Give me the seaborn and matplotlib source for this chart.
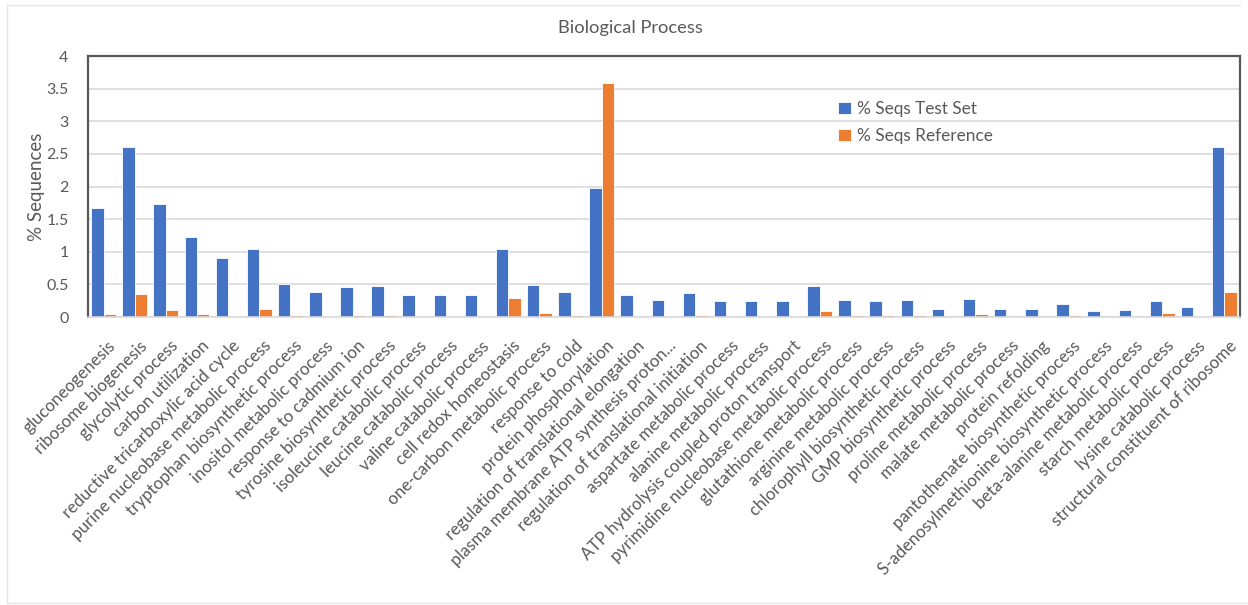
import matplotlib
matplotlib.use("Agg")
import matplotlib.pyplot as plt
import matplotlib.transforms as mtransforms
from matplotlib.lines import Line2D
import seaborn as sns
import pandas as pd

categories = [
    "gluconeogenesis",
    "ribosome biogenesis",
    "glycolytic process",
    "carbon utilization",
    "reductive tricarboxylic acid cycle",
    "purine nucleobase metabolic process",
    "tryptophan biosynthetic process",
    "inositol metabolic process",
    "response to cadmium ion",
    "tyrosine biosynthetic process",
    "isoleucine catabolic process",
    "leucine catabolic process",
    "valine catabolic process",
    "cell redox homeostasis",
    "one-carbon metabolic process",
    "response to cold",
    "protein phosphorylation",
    "regulation of translational elongation",
    "plasma membrane ATP synthesis proton...",
    "regulation of translational initiation",
    "aspartate metabolic process",
    "alanine metabolic process",
    "ATP hydrolysis coupled proton transport",
    "pyrimidine nucleobase metabolic process",
    "glutathione metabolic process",
    "arginine metabolic process",
    "chlorophyll biosynthetic process",
    "GMP biosynthetic process",
    "proline metabolic process",
    "malate metabolic process",
    "protein refolding",
    "pantothenate biosynthetic process",
    "S-adenosylmethionine biosynthetic process",
    "beta-alanine metabolic process",
    "starch metabolic process",
    "lysine catabolic process",
    "structural constituent of ribosome",
]

test_set = [
    1.67, 2.60, 1.73, 1.22, 0.91, 1.04, 0.50, 0.39, 0.46, 0.47,
    0.33, 0.33, 0.33, 1.04, 0.49, 0.38, 1.97, 0.33, 0.26, 0.37,
    0.24, 0.24, 0.24, 0.47, 0.26, 0.245, 0.26, 0.13, 0.275, 0.13,
    0.13, 0.20, 0.09, 0.11, 0.245, 0.16, 2.60,
]

reference = [
    0.05, 0.35, 0.10, 0.04, 0.01, 0.13, 0.025, 0.01, 0.025, 0.03,
    0.01, 0.01, 0.01, 0.29, 0.06, 0.03, 3.59, 0.02, 0.01, 0.035,
    0.01, 0.01, 0.02, 0.09, 0.025, 0.025, 0.025, 0.0, 0.046, 0.0,
    0.0, 0.025, 0.0, 0.0, 0.056, 0.02, 0.38,
]

series_names = ["% Seqs Test Set", "% Seqs Reference"]
series_colors = ["#4472C4", "#ED7D31"]
y_ticks = [0, 0.5, 1, 1.5, 2, 2.5, 3, 3.5, 4]
y_tick_labels = ["0", "0.5", "1", "1.5", "2", "2.5", "3", "3.5", "4"]

df = pd.DataFrame({
    "category": categories * 2,
    "series": [series_names[0]] * len(categories) + [series_names[1]] * len(categories),
    "value": test_set + reference,
})

sns.set_theme(style="white")
plt.rcParams["font.family"] = ["Lato", "DejaVu Sans"]

text_grey = "#595959"
grid_grey = "#D9D9D9"
frame_grey = "#595959"

fig = plt.figure(figsize=(12.48, 6.05), dpi=100)
ax = fig.add_axes([88 / 1248, 1 - 317 / 605, (1240 - 88) / 1248, (317 - 56) / 605])

sns.barplot(
    data=df, x="category", y="value", hue="series",
    order=categories, hue_order=series_names,
    palette=series_colors, width=0.8, saturation=1,
    edgecolor="white", linewidth=0.6, ax=ax, legend=True,
)

ax.set_ylim(0, 4)
ax.set_xlim(-0.5, len(categories) - 0.5)
ax.set_yticks(y_ticks)
ax.set_yticklabels(y_tick_labels)
ax.yaxis.grid(True, color=grid_grey, linewidth=1.2)
ax.set_axisbelow(True)
ax.set_xlabel("")
ax.set_ylabel("% Sequences", fontsize=13.5, color=text_grey, labelpad=1)

ax.tick_params(axis="y", length=0, pad=14, labelsize=11.5, labelcolor=text_grey)
ax.tick_params(axis="x", length=0, pad=15, labelsize=12.2, labelcolor=text_grey)

# slanted category labels, right end anchored just past each group centre
shift = mtransforms.ScaledTranslation(4 / 100, 0, fig.dpi_scale_trans)
for lbl in ax.get_xticklabels():
    lbl.set_rotation(45)
    lbl.set_ha("right")
    lbl.set_va("top")
    lbl.set_rotation_mode("anchor")
    lbl.set_transform(lbl.get_transform() + shift)

for side in ("left", "top", "right"):
    ax.spines[side].set_visible(True)
    ax.spines[side].set_color(frame_grey)
    ax.spines[side].set_linewidth(1.6)
ax.spines["bottom"].set_color(grid_grey)
ax.spines["bottom"].set_linewidth(1.2)

leg = ax.legend(
    loc="upper left", bbox_to_anchor=((838 - 88) / 1152, 1 - (101 - 56) / 261),
    frameon=False, fontsize=12.4, handlelength=0.75, handleheight=0.75,
    handletextpad=0.35, labelspacing=0.65, borderpad=0, borderaxespad=0,
)
for t in leg.get_texts():
    t.set_color(text_grey)

fig.suptitle("Biological Process", x=0.505, y=1 - 28 / 605, va="center",
             fontsize=13.2, color=text_grey)

# light outer chart border
for xs, ys in (([7, 7], [5, 603]), ([7, 1240], [5, 5]), ([7, 1248], [603, 603])):
    fig.add_artist(Line2D([x / 1248 for x in xs], [1 - y / 605 for y in ys],
                          transform=fig.transFigure, color="#E6E6E6", linewidth=1))

fig.savefig("out.png", dpi=100, facecolor="white")
